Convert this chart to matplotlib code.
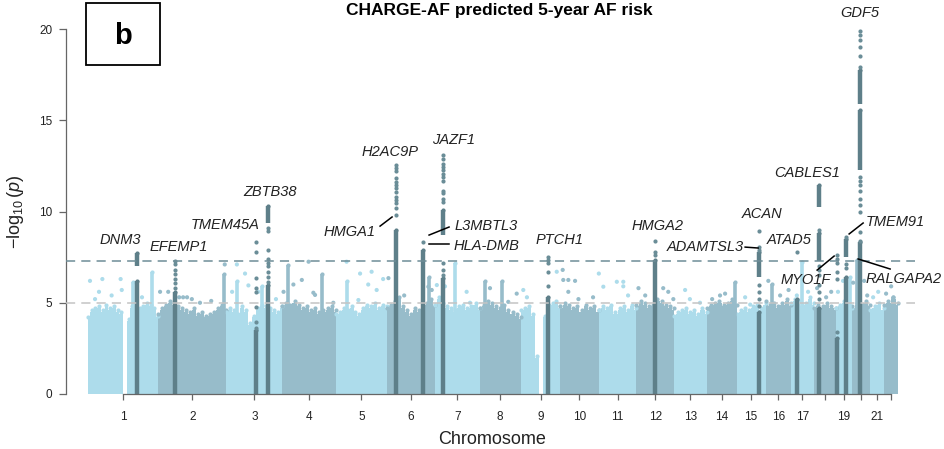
import numpy as np
import matplotlib
matplotlib.use("Agg")
import matplotlib.pyplot as plt
from matplotlib.patches import Rectangle

plt.rcParams['font.family'] = ['Liberation Sans', 'DejaVu Sans']
plt.rcParams['mathtext.fontset'] = 'custom'
plt.rcParams['mathtext.rm'] = 'Liberation Sans'
plt.rcParams['mathtext.it'] = 'Liberation Sans:italic'

# chromosome lengths (Mb, hg19)
chrom_len = [249.3, 243.2, 198.0, 191.2, 180.9, 171.1, 159.1, 146.4, 141.2, 135.5, 135.0,
             133.9, 115.2, 107.3, 102.5, 90.4, 81.2, 78.1, 59.1, 63.0, 48.1, 51.3]
tick_labels = ["1", "2", "3", "4", "5", "6", "7", "8", "9", "10", "11", "12", "13", "14",
               "15", "16", "17", "", "19", "", "21", ""]

# upper edge of the dense cloud of SNPs, evenly spaced along each chromosome
cloud_top = [
    [4.1, 4.5, 4.6, 4.7, 4.5, 4.8, 4.6, 4.7, 4.5, 4.4, 0.0, 4.0, 4.7, 4.8, 4.6, 4.7, 4.9, 4.8, 4.6, 4.2],
    [4.3, 4.6, 4.8, 5.0, 4.9, 4.7, 4.6, 4.5, 4.4, 4.6, 4.3, 4.4, 4.2, 4.3, 4.4, 4.6, 4.8, 4.5],
    [4.4, 4.6, 4.5, 4.3, 4.7, 4.5, 3.8, 4.2, 4.6, 4.8, 4.7, 4.6, 4.5, 4.4, 4.7],
    [4.7, 4.9, 4.8, 5.0, 4.8, 4.6, 4.7, 4.5, 4.6, 4.4, 4.5, 4.6, 4.7, 4.5],
    [4.3, 4.4, 4.6, 4.5, 4.7, 4.4, 4.3, 4.6, 4.8, 4.7, 4.9, 4.6, 4.8, 4.7],
    [4.6, 4.8, 5.0, 5.2, 4.7, 4.5, 4.3, 4.6, 4.5, 4.4, 4.9, 5.1, 4.8],
    [4.8, 5.2, 4.9, 4.7, 4.6, 4.5, 4.7, 4.8, 4.6, 4.7, 4.9, 4.6],
    [4.6, 4.8, 5.0, 4.9, 4.7, 4.6, 4.8, 4.5, 4.4, 4.3, 4.1],
    [4.5, 4.6, 4.7, 4.3, 2.0, 0.0, 4.2, 4.8, 4.9, 5.0, 4.7],
    [4.7, 4.9, 4.8, 4.6, 4.7, 4.5, 4.8, 4.6, 4.7, 4.5],
    [4.5, 4.7, 4.6, 4.8, 4.4, 4.6, 4.7, 4.5, 4.8, 4.6],
    [4.8, 5.0, 4.9, 4.7, 4.8, 5.1, 5.0, 4.8, 4.7, 4.6],
    [4.2, 4.4, 4.5, 4.6, 4.4, 4.5, 4.3, 4.6, 4.4],
    [4.6, 4.8, 4.9, 5.0, 4.8, 4.9, 5.1, 4.8],
    [4.3, 4.5, 4.6, 4.5, 4.7, 4.8, 4.6, 4.9],
    [5.0, 4.8, 4.9, 4.7, 4.9, 5.1, 4.8],
    [4.9, 5.1, 5.0, 4.8, 4.9, 5.2, 4.9],
    [4.6, 4.8, 4.7, 4.9, 4.7, 4.6],
    [4.6, 4.8, 5.0, 4.7, 4.6],
    [4.7, 4.9, 4.8, 5.0, 4.8],
    [4.5, 4.7, 4.9, 4.6],
    [4.8, 5.0, 5.2, 4.9],
]

# narrow sub-threshold peaks (chromosome, position Mb, top -log10 p)
spike_chr = [1, 1, 2, 3, 3, 4, 4, 5, 6, 7, 8, 8, 14, 16, 17, 19, 20, 22]
spike_pos = [160, 228, 235, 39, 127, 21, 142, 38, 150, 72, 20, 79, 102, 23, 39, 51, 17, 35]
spike_top = [6.15, 6.7, 6.6, 6.2, 5.9, 7.07, 6.6, 6.2, 6.4, 7.16, 6.2, 6.2, 6.15, 6.05, 7.25, 6.4, 7.35, 5.33]

# isolated SNPs above the cloud
dot_chr = [1, 1, 1, 1, 1, 1, 1, 1,
           2, 2, 2, 2, 2, 2, 2, 2, 2,
           3, 3, 3, 3, 3, 3,
           4, 4, 4, 4, 4, 4, 4,
           5, 5, 5, 5, 5, 5, 5,
           6, 6, 6, 6,
           7, 7, 7, 7,
           8, 8, 8,
           9, 9, 9,
           10, 10, 10, 10, 10, 10, 10,
           11, 11, 11, 11, 11, 11,
           12, 12, 12, 12, 12,
           13, 13, 13,
           14, 14, 14,
           15, 15,
           16, 16, 16,
           17, 17,
           18, 18, 18,
           19, 19,
           20, 20, 20,
           21, 21,
           22, 22]
dot_pos = [7, 39, 51, 84, 116, 120, 25, 192,
           7, 36, 75, 89, 103, 120, 149, 237, 189,
           37, 66, 78, 113, 20, 176,
           40, 70, 94, 117, 182, 5, 111,
           38, 86, 127, 145, 168, 115, 80,
           6, 148, 160, 62,
           7, 113, 36, 125,
           37, 102, 132,
           9, 22, 128,
           8, 10, 28, 52, 28, 64, 116,
           1, 17, 65, 88, 88, 105,
           7, 95, 113, 131, 31,
           39, 56, 92,
           48, 66, 20,
           48, 30,
           10, 82, 52,
           21, 61,
           12, 44, 62,
           26, 8,
           3, 42, 53,
           11, 29,
           9, 27]
dot_val = [6.2, 5.6, 6.3, 5.4, 6.3, 5.7, 5.2, 5.3,
           5.6, 5.6, 5.3, 5.3, 5.3, 5.2, 5.0, 7.1, 5.1,
           7.1, 6.6, 5.95, 5.6, 5.6, 5.2,
           6.0, 6.25, 7.25, 5.43, 5.0, 5.6, 5.55,
           7.25, 6.6, 6.7, 5.7, 6.3, 6.0, 5.15,
           6.35, 5.88, 5.7, 5.4,
           5.97, 5.6, 5.9, 5.0,
           5.8, 5.05, 5.5,
           5.7, 5.3, 6.7,
           6.8, 6.25, 6.25, 6.2, 5.6, 5.2, 5.3,
           6.6, 5.88, 6.15, 6.15, 5.9, 5.4,
           5.8, 5.8, 5.6, 5.2, 5.4,
           5.7, 5.2, 5.0,
           5.4, 5.5, 5.2,
           4.9, 5.3,
           6.2, 5.7, 5.4,
           5.4, 5.6,
           5.8, 5.3, 5.6,
           6.2, 5.6,
           6.1, 6.2, 5.4,
           5.3, 5.6,
           5.5, 5.9]

# lead loci: dense stretches of SNPs and isolated SNPs in each column
hit_chr = [1, 2, 3, 3, 6, 6, 7, 9, 12, 15, 17, 18, 19, 19, 20]
hit_pos = [175, 60, 104, 146, 33, 130, 28, 96, 66, 80, 21, 17, 4, 36, 28]
hit_dense = [
    [(0, 6.2), (7.0, 7.7)],
    [(0, 5.6)],
    [(0, 3.5)],
    [(0, 6.0), (9.35, 10.3)],
    [(0, 9.0)],
    [(0, 7.9)],
    [(0, 6.35), (8.7, 10.1)],
    [(0, 5.3)],
    [(0, 7.35)],
    [(0, 4.5), (6.4, 7.8)],
    [(0, 5.2)],
    [(0, 4.7), (7.3, 8.8), (10.26, 11.45)],
    [(0, 3.07)],
    [(0, 6.4), (7.5, 8.47)],
    [(0, 8.35), (12.3, 15.55), (15.9, 17.75)],
]
hit_dots = [
    [],
    [5.8, 6.07, 6.3, 6.6, 6.8, 7.1, 7.3],
    [3.6, 3.95, 4.75, 5.6, 5.8, 6.35, 7.8, 8.35],
    [6.15, 6.4, 6.7, 7.0, 7.2, 7.4, 7.9, 8.95, 9.1],
    [9.81, 10.18, 10.45, 10.63, 10.81, 11.09, 11.27, 11.45, 11.63, 11.83, 12.24, 12.37, 12.55],
    [8.35],
    [6.5, 6.8, 7.2, 10.54, 10.67, 11.0, 11.14, 11.7, 11.87, 12.05, 12.27, 12.45, 12.6, 12.9, 13.1],
    [5.9, 6.7, 7.2, 7.35, 7.5],
    [7.6, 7.8, 8.4],
    [4.8, 5.2, 5.6, 6.0, 7.9, 8.07, 8.95],
    [7.8],
    [5.2, 5.6, 6.0, 6.5, 6.8, 7.0, 9.0],
    [3.4, 6.3, 6.7, 7.2, 7.4, 7.6],
    [6.9, 7.15, 8.6],
    [8.4, 8.9, 10.0, 10.36, 10.7, 11.1, 11.45, 11.7, 11.9,
     17.9, 18.5, 19.0, 19.4, 19.67, 19.9],
]

# gene labels: name, label x (cumulative Mb), label y, alignment, leader line
genes = [
    ("DNM3", 113.8, 8.44, "center", None),
    ("EFEMP1", 323.7, 8.05, "center", None),
    ("TMEM45A", 487.4, 9.26, "center", None),
    ("ZBTB38", 647.5, 11.07, "center", None),
    ("HMGA1", 928.5, 8.88, "center", ((1038.8, 9.2), (1081.5, 9.7))),
    ("H2AC9P", 1074.3, 13.26, "center", None),
    ("JAZF1", 1298.5, 13.92, "center", None),
    ("L3MBTL3", 1302.0, 9.2, "left", ((1213.1, 8.71), (1284.2, 9.15))),
    ("HLA-DMB", 1298.5, 8.11, "left", ((1213.1, 8.22), (1284.2, 8.22))),
    ("PTCH1", 1675.6, 8.44, "center", None),
    ("HMGA2", 2024.2, 9.2, "center", None),
    ("ACAN", 2397.7, 9.86, "center", None),
    ("ADAMTSL3", 2333.7, 8.05, "right", ((2337.3, 8.05), (2383.5, 8.0))),
    ("ATAD5", 2493.8, 8.44, "center", None),
    ("CABLES1", 2557.8, 12.11, "center", None),
    ("MYO1F", 2554.3, 6.25, "center", ((2593.4, 6.79), (2653.9, 7.56))),
    ("TMEM91", 2767.5, 9.42, "left", ((2707.2, 8.77), (2757.0, 9.37))),
    ("RALGAPA2", 2764.0, 6.3, "left", ((2739.2, 7.4), (2853.0, 6.85))),
    ("GDF5", 2746.4, 20.88, "center", None),
]

light = "#ADDCEB"
mid = "#97BCCA"
dark = "#5E7F89"
dark_dot = "#6A8D97"

starts = np.concatenate([[0], np.cumsum(chrom_len)[:-1]])
centers = starts + np.array(chrom_len) / 2
chrom_col = [light if i % 2 == 0 else mid for i in range(22)]

fig = plt.figure(figsize=(9.45, 4.49), dpi=100)
ax = fig.add_axes([66 / 945, 1 - 394 / 449, (915 - 66) / 945, (394 - 15) / 449])

for i in range(22):
    xs = np.linspace(starts[i], starts[i] + chrom_len[i], len(cloud_top[i]))
    ax.fill_between(xs, 0, cloud_top[i], color=chrom_col[i], lw=0, step="mid", zorder=1)
    tops = np.array(cloud_top[i])
    keep = tops > 1
    ax.scatter(xs[keep], tops[keep] + 0.1, s=9, color=chrom_col[i], lw=0, zorder=1.2)

for c, p, t in zip(spike_chr, spike_pos, spike_top):
    x = starts[c - 1] + p
    ax.vlines(x, 0, t, color=chrom_col[c - 1], lw=2.6, zorder=1.5)
    ax.scatter([x], [t], s=9, color=chrom_col[c - 1], lw=0, zorder=1.6)

dx = [starts[c - 1] + p for c, p in zip(dot_chr, dot_pos)]
dcol = [chrom_col[c - 1] for c in dot_chr]
ax.scatter(dx, dot_val, s=9, c=dcol, lw=0, zorder=1.6)

for c, p, segs, dots in zip(hit_chr, hit_pos, hit_dense, hit_dots):
    x = starts[c - 1] + p
    for lo, hi in segs:
        ax.vlines(x, lo, hi, color=dark, lw=3.2, zorder=2)
        ax.scatter([x], [hi], s=9, color=dark, lw=0, zorder=2)
    if dots:
        ax.scatter([x] * len(dots), dots, s=9, color=dark_dot, lw=0, zorder=2.1)

ax.axhline(7.3, color="#6E8D97", lw=1.1, ls=(0, (6, 4)), zorder=3)
ax.axhline(5, color="#C4C4C4", lw=1.1, ls=(0, (6, 4)), zorder=3)

for name, gx, gy, ha, line in genes:
    ax.text(gx, gy, name, ha=ha, va="center", fontsize=10.5, style="italic",
            color="#222222", zorder=5, clip_on=False)
    if line is not None:
        (x0, y0), (x1, y1) = line
        ax.plot([x0, x1], [y0, y1], color="black", lw=1.1, zorder=5, clip_on=False)

ax.set_xlim(-78.3, 2941.5)
ax.set_ylim(0, 20.77)
for s in ["top", "right"]:
    ax.spines[s].set_visible(False)
ax.spines["left"].set_bounds(0, 20)
ax.spines["bottom"].set_bounds(centers[0], centers[-1])
for s in ["left", "bottom"]:
    ax.spines[s].set_color("#666666")
    ax.spines[s].set_linewidth(0.9)
ax.set_yticks([0, 5, 10, 15, 20])
ax.set_xticks(centers)
ax.set_xticklabels(tick_labels)
ax.tick_params(axis="y", length=5, width=0.9, color="#666666", pad=5, labelsize=8.5, labelcolor="#222222")
ax.tick_params(axis="x", length=4, width=0.9, color="#666666", pad=8, labelsize=8.5, labelcolor="#222222")

fig.text(492 / 945, 1 - 440 / 449, "Chromosome", ha="center", va="center", fontsize=13, color="#222222")
fig.text(16 / 945, 1 - 212 / 449, r"$-\log_{10}(\mathit{p})$", rotation=90, ha="center", va="center",
         fontsize=13, color="#222222")
fig.text(653 / 945, 1 - 10 / 449, "CHARGE-AF predicted 5-year AF risk", ha="right", va="center",
         fontsize=12.5, fontweight="bold")

fig.patches.append(Rectangle((86 / 945, 1 - 65 / 449), 74 / 945, 62 / 449, transform=fig.transFigure,
                             fill=False, edgecolor="black", lw=1.3))
fig.text(123 / 945, 1 - 36 / 449, "b", ha="center", va="center", fontsize=21, fontweight="bold")

fig.savefig("out.png", dpi=100)
